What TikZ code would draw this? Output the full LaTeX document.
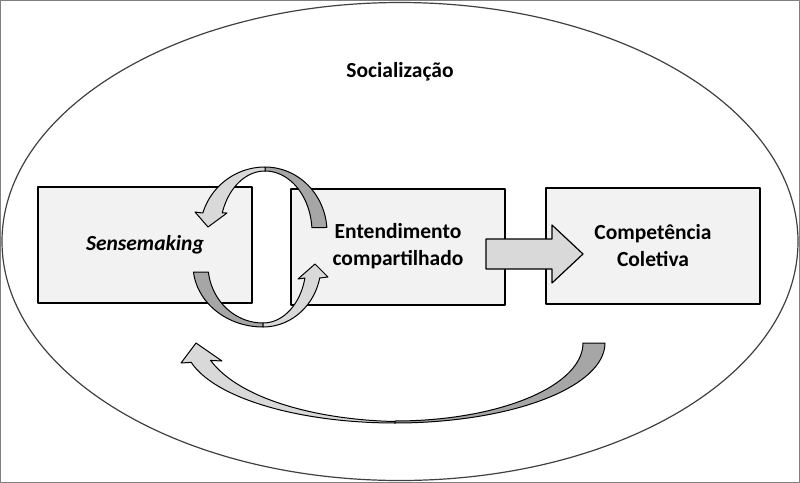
\documentclass[tikz,border=0pt]{standalone}
\usepackage{fontspec}
\setmainfont{Carlito}
\usetikzlibrary{calc}
\definecolor{darkg}{HTML}{A6A6A6}
\definecolor{lightg}{HTML}{D9D9D9}
\definecolor{boxfill}{HTML}{F2F2F2}
\definecolor{ellcol}{HTML}{404040}
\begin{document}
\begin{tikzpicture}[x=0.5pt,y=-0.5pt,line join=round,
  box/.style={draw=black,line width=1pt,fill=boxfill,minimum width=107pt,minimum height=58pt,inner sep=0pt,
    font=\fontsize{10.75}{13.5}\selectfont\bfseries,align=center},
  lbl/.style={font=\fontsize{10.75}{13.5}\selectfont\bfseries,align=center},
  band/.style={draw=black,line width=0.5pt}]
\useasboundingbox (0,0) rectangle (800,483);
\draw[gray,line width=0.6pt] (0.6,0.6) rectangle (799.4,482.4);
\draw[ellcol,line width=0.6pt] (400,241.5) ellipse [x radius=199pt,y radius=119.5pt];
\node[lbl] (soc) at (400,72) {Socialização};
\node[box] (sense) at (145,245) {\itshape Sensemaking};
\node[box] (ent) at (398,246.5) {Entendimento\\compartilhado};
\node[box] (comp) at (653,245.5) {Competência\\Coletiva};
% top loop arrow (Entendimento -> Sensemaking)
\filldraw[band,fill=darkg] plot[domain=-4:-90,samples=30] ({265+62*cos(\x)},{232+65*sin(\x)})
  -- plot[domain=-90:-4,samples=30] ({265+47*cos(\x)},{232+61*sin(\x)}) -- cycle;
\filldraw[band,fill=lightg] plot[domain=-90:-163,samples=30] ({265+65*cos(\x)},{232+65*sin(\x)})
  -- (195,212) -- (208,227) -- (227,213)
  -- plot[domain=-161.8:-90,samples=30] ({265+45*cos(\x)},{232+61*sin(\x)}) -- cycle;
% bottom loop arrow (Sensemaking -> Entendimento)
\filldraw[band,fill=darkg] plot[domain=173.5:90,samples=30] ({263+70*cos(\x)},{265+62*sin(\x)})
  -- plot[domain=90:173,samples=30] ({263+55*cos(\x)},{265+58*sin(\x)}) -- cycle;
\filldraw[band,fill=lightg] plot[domain=90:12.1,samples=30] ({263+58*cos(\x)},{265+62*sin(\x)})
  -- (328,277) -- (315,264) -- (298,279)
  -- plot[domain=13:90,samples=30] ({263+43*cos(\x)},{265+58*sin(\x)}) -- cycle;
% large lower return arrow (Competencia -> Sensemaking)
\filldraw[band,fill=darkg] plot[domain=0:90,samples=40] ({395+210*cos(\x)},{343+80*sin(\x)})
  -- plot[domain=90:0,samples=40] ({395+188*cos(\x)},{343+78*sin(\x)}) -- cycle;
\filldraw[band,fill=lightg] plot[domain=90:166,samples=40] ({395+210*cos(\x)},{343+80*sin(\x)})
  -- (181,363) -- (196,343) -- (222,361) -- (210.6,360.4)
  .. controls (240,400) and (320,420) .. (395,421.5) -- cycle;
% straight arrow Entendimento -> Competencia
\filldraw[band,fill=lightg,line width=0.6pt] ($(ent.east)+(-20,-7.5)$)
  -- (552,239) -- (552,225) -- (583,254) -- (552,283) -- (552,269) -- ($(ent.east)+(-20,22.5)$) -- cycle;
\end{tikzpicture}
\end{document}
